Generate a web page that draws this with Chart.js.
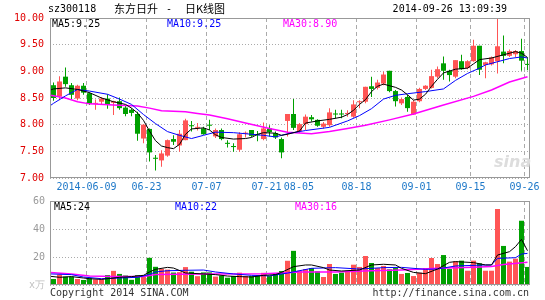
<!DOCTYPE html>
<html>
<head>
<meta charset="utf-8">
<title>sz300118 日K线图</title>
<script src="https://cdn.jsdelivr.net/npm/chart.js@4.4.1/dist/chart.umd.min.js"></script>
<style>
    body { margin: 0; background: #fff; }
    #wrap { position: relative; width: 545px; height: 300px; overflow: hidden; font-family: "DejaVu Sans Mono", monospace; font-size: 10px; color: #000; }
    #wrap canvas { position: absolute; left: 0; }
    .t { position: absolute; white-space: pre; line-height: 12px; }
    .cjk { font-family: "Noto Sans CJK SC", sans-serif; font-size: 11px; line-height: 14px; }
</style>
</head>
<body>
<div id="wrap">
    <canvas id="kline" width="545" height="200" style="top:0"></canvas>
    <canvas id="volume" width="545" height="110" style="top:190px"></canvas>

    <div class="t" style="left:48px;top:3px">sz300118</div>
    <div class="t cjk" style="left:114px;top:1px">东方日升</div>
    <div class="t" style="left:166px;top:3px">-</div>
    <div class="t cjk" style="left:185px;top:1px">日K线图</div>
    <div class="t" style="right:38px;top:3px">2014-09-26 13:09:39</div>

    <div class="t" style="left:52px;top:18px">MA5:9.25</div>
    <div class="t" style="left:167px;top:18px;color:#0000ff">MA10:9.25</div>
    <div class="t" style="left:283px;top:18px;color:#ff00ff">MA30:8.90</div>

    <div class="t" style="left:54px;top:201px">MA5:24</div>
    <div class="t" style="left:175px;top:201px;color:#0000ff">MA10:22</div>
    <div class="t" style="left:295px;top:201px;color:#ff00ff">MA30:16</div>

    <div class="t" style="left:494px;top:152px;font:italic bold 16px 'DejaVu Sans',sans-serif;color:#dddddd">sina</div>

    <div class="t" style="left:50px;top:287px;color:#333">Copyright 2014 SINA.COM</div>
    <div class="t" style="right:16px;top:287px;color:#333">http://finance.sina.com.cn</div>
</div>

<script>
// daily candles, oldest first
const opens = [8.74, 8.53, 8.90, 8.74, 8.49, 8.73, 8.59, 8.39, 8.43, 8.49,
    8.41, 8.44, 8.32, 8.28, 8.20, 7.74, 7.92, 7.38, 7.33, 7.42,
    7.73, 7.61, 7.71, 7.99, 7.94, 7.93, 8.00, 7.78, 7.90, 7.66,
    7.60, 7.53, 7.83, 7.90, 7.82, 7.73, 7.93, 7.84, 7.73, 8.07,
    8.20, 7.88, 8.01, 8.14, 8.09, 7.96, 7.99, 8.21, 8.21, 8.20,
    8.15, 8.42, 8.43, 8.72, 8.69, 8.77, 9.01, 8.63, 8.40, 8.52,
    8.19, 8.44, 8.67, 8.69, 8.90, 9.15, 9.01, 8.90, 9.19, 9.06,
    9.19, 9.48, 9.12, 9.13, 9.19, 9.37, 9.29, 9.32, 9.38, 9.14];
const highs = [8.79, 8.91, 9.07, 8.78, 8.75, 8.78, 8.61, 8.47, 8.52, 8.57,
    8.45, 8.51, 8.36, 8.31, 8.24, 8.01, 7.93, 7.43, 7.52, 7.72,
    7.80, 7.90, 8.11, 8.07, 8.03, 7.96, 8.09, 7.93, 7.93, 7.71,
    7.65, 7.86, 7.87, 7.90, 7.88, 8.04, 7.99, 7.87, 7.76, 8.20,
    8.48, 8.03, 8.19, 8.18, 8.10, 8.05, 8.31, 8.28, 8.28, 8.27,
    8.46, 8.46, 8.71, 8.90, 8.84, 8.99, 9.01, 8.65, 8.51, 8.56,
    8.46, 8.69, 8.74, 9.03, 9.09, 9.28, 9.03, 9.21, 9.31, 9.21,
    9.59, 9.48, 9.18, 9.28, 9.99, 9.67, 9.41, 9.40, 9.61, 9.26];
const lows = [8.45, 8.46, 8.71, 8.48, 8.46, 8.56, 8.37, 8.28, 8.37, 8.30,
    8.18, 8.28, 8.16, 8.16, 7.70, 7.65, 7.31, 7.14, 7.21, 7.40,
    7.62, 7.49, 7.71, 7.87, 7.89, 7.81, 7.90, 7.75, 7.71, 7.57,
    7.49, 7.49, 7.76, 7.77, 7.69, 7.71, 7.78, 7.73, 7.37, 7.78,
    7.90, 7.85, 7.90, 8.06, 7.96, 7.93, 7.96, 8.12, 8.12, 8.15,
    8.13, 8.31, 8.40, 8.52, 8.66, 8.74, 8.61, 8.34, 8.37, 8.24,
    8.18, 8.42, 8.65, 8.68, 8.87, 8.84, 8.81, 8.87, 9.03, 9.04,
    9.18, 8.93, 8.87, 9.11, 8.96, 9.15, 9.27, 9.27, 9.01, 9.02];
const closes = [8.50, 8.81, 8.76, 8.56, 8.73, 8.60, 8.39, 8.40, 8.49, 8.37,
    8.44, 8.31, 8.20, 8.22, 7.83, 8.00, 7.48, 7.36, 7.46, 7.71,
    7.68, 7.83, 8.08, 7.97, 7.95, 7.82, 7.98, 7.90, 7.73, 7.64,
    7.58, 7.82, 7.85, 7.79, 7.80, 7.93, 7.86, 7.76, 7.48, 8.20,
    7.94, 8.01, 8.15, 8.10, 7.98, 8.02, 8.23, 8.19, 8.19, 8.22,
    8.38, 8.44, 8.71, 8.67, 8.79, 8.94, 8.63, 8.44, 8.48, 8.31,
    8.43, 8.67, 8.73, 8.91, 9.04, 9.01, 8.93, 9.21, 9.04, 9.19,
    9.48, 9.03, 9.17, 9.26, 9.47, 9.29, 9.38, 9.38, 9.20, 9.12];
// volume, 万手
const volumes = [4.3, 7.5, 6.0, 6.0, 4.3, 3.6, 4.9, 4.0, 4.1, 7.1,
    10.1, 7.9, 6.8, 3.7, 7.1, 6.0, 19.4, 13.0, 11.6, 11.0,
    8.9, 9.2, 12.8, 9.5, 6.3, 9.0, 9.0, 6.0, 6.7, 5.2,
    6.4, 8.8, 6.4, 6.4, 6.4, 8.7, 6.4, 8.5, 10.0, 17.3,
    24.4, 10.2, 11.4, 12.1, 9.8, 5.7, 15.0, 7.9, 8.8, 10.2,
    14.5, 12.9, 20.7, 15.7, 12.1, 13.6, 11.2, 12.1, 7.9, 8.6,
    6.4, 8.8, 12.1, 19.3, 15.0, 21.4, 11.4, 16.9, 17.4, 10.2,
    17.4, 15.5, 10.2, 10.2, 54.3, 27.9, 16.7, 18.8, 45.9, 12.9];

// moving averages (x = candle index)
const ma5X = [-0.5, 0, 2, 4, 6, 8, 10, 12, 13, 14, 15, 16, 17, 18, 19, 20, 21, 22, 23, 25, 26, 27, 28, 30, 32, 33, 34, 35, 37, 38, 39, 41, 42, 44, 46, 48, 49, 50, 51, 52, 53, 54, 55, 57, 58, 59, 60, 61, 62, 63, 64, 65, 67, 69, 70, 71, 73, 75, 77, 78, 79];
const ma5 = [8.65, 8.67, 8.69, 8.66, 8.60, 8.50, 8.43, 8.38, 8.31, 8.22, 8.08, 7.88, 7.70, 7.60, 7.57, 7.55, 7.63, 7.82, 7.92, 7.94, 7.90, 7.81, 7.76, 7.73, 7.74, 7.76, 7.82, 7.85, 7.84, 7.80, 7.82, 7.88, 8.03, 8.07, 8.10, 8.14, 8.19, 8.27, 8.38, 8.47, 8.62, 8.72, 8.76, 8.70, 8.65, 8.56, 8.46, 8.48, 8.57, 8.72, 8.85, 8.97, 9.04, 9.06, 9.14, 9.22, 9.25, 9.31, 9.37, 9.34, 9.26];
const ma10X = [-0.5, 0, 2, 4, 6, 9, 11, 13, 15, 17, 19, 21, 23, 25, 27, 30, 33, 35, 37, 39, 42, 46, 49, 51, 53, 55, 57, 59, 62, 65, 67, 69, 71, 72, 74, 76, 78, 79];
const ma10 = [8.36, 8.40, 8.54, 8.66, 8.63, 8.57, 8.48, 8.38, 8.19, 8.02, 7.87, 7.80, 7.74, 7.80, 7.86, 7.85, 7.82, 7.80, 7.77, 7.83, 7.89, 7.95, 8.07, 8.17, 8.30, 8.48, 8.55, 8.58, 8.62, 8.67, 8.83, 8.96, 9.06, 9.12, 9.18, 9.24, 9.27, 9.25];
const ma30X = [-0.5, 2, 4, 6, 10, 14, 16, 18, 22, 24, 26, 29, 32, 36, 39, 43, 46, 49, 52, 56, 60, 65, 70, 73, 76, 79];
const ma30 = [8.55, 8.50, 8.43, 8.39, 8.37, 8.35, 8.31, 8.26, 8.24, 8.21, 8.18, 8.11, 8.03, 7.93, 7.86, 7.83, 7.87, 7.93, 7.99, 8.09, 8.20, 8.37, 8.53, 8.65, 8.80, 8.90];

const volMa5X = [-0.5, 1, 3, 5, 6, 8, 11, 13, 15, 16, 17, 19, 20, 22, 25, 27, 29, 31, 33, 35, 37, 38, 40, 42, 43, 45, 46, 48, 51, 53, 55, 57, 58, 60, 62, 64, 66, 67, 70, 72, 73, 74, 76, 77, 78, 79];
const volMa5 = [6.2, 5.5, 6.0, 5.0, 4.5, 4.0, 5.5, 6.0, 6.9, 9.3, 11.2, 12.6, 12.1, 8.6, 7.9, 7.4, 6.4, 6.0, 5.7, 6.9, 7.4, 9.0, 13.1, 14.3, 14.3, 12.4, 10.7, 10.0, 10.7, 14.3, 14.8, 14.3, 11.9, 9.0, 8.1, 11.4, 16.2, 16.7, 16.0, 14.3, 14.3, 21.4, 23.8, 27.4, 32.6, 24.5];
const volMa10X = [-0.5, 3, 5, 8, 11, 14, 16, 17, 19, 22, 25, 27, 30, 33, 36, 39, 43, 47, 51, 55, 58, 62, 64, 67, 72, 73, 74, 77, 78, 79];
const volMa10 = [7.9, 7.4, 5.7, 4.5, 5.0, 5.5, 7.5, 9.3, 10.2, 10.5, 10.7, 9.3, 7.9, 6.9, 6.5, 8.5, 11.9, 12.4, 11.4, 12.4, 12.6, 11.2, 11.4, 13.6, 14.3, 14.3, 19.0, 19.5, 22.1, 22.6];
const volMa30X = [-0.5, 3, 6, 10, 15, 17, 25, 35, 39, 41, 47, 53, 58, 64, 70, 73, 75, 79];
const volMa30 = [9.0, 7.9, 6.5, 6.0, 6.0, 7.5, 7.9, 8.0, 8.8, 9.2, 9.3, 10.1, 10.8, 11.9, 12.7, 13.3, 14.6, 16.3];

// date labels under the price panel
const tickPos = [5.5, 15.5, 25.5, 35.5, 40.9, 50.5, 60.5, 69.5, 78.5];
const tickText = ['2014-06-09', '06-23', '07-07', '07-21', '08-05', '08-18', '09-01', '09-15', '09-26'];
const noGridTicks = ['08-05'];

const MONO = '"DejaVu Sans Mono", monospace';
const UP = '#ff5555';
const DOWN = '#00a000';
const GRID = '#aaaaaa';
const colorAt = i => closes[i] >= opens[i] ? UP : DOWN;

Chart.defaults.font.family = MONO;
Chart.defaults.font.size = 10;

// shift by half a pixel so 5px bodies and 1px wicks land on whole pixels
const X_MIN = -7 / 12;
const X_MAX = opens.length - 7 / 12;

const frame = {
    id: 'frame',
    afterDatasetsDraw(chart) {
        const { ctx, chartArea: a } = chart;
        ctx.save();
        ctx.strokeStyle = '#999999';
        ctx.lineWidth = 1;
        ctx.strokeRect(a.left + 0.5, a.top + 0.5, a.right - a.left - 1, a.bottom - a.top - 1);
        ctx.restore();
    }
};

function xAxis(showLabels, height) {
    return {
        type: 'linear',
        offset: false,
        min: X_MIN,
        max: X_MAX,
        afterBuildTicks: s => { s.ticks = tickPos.map(v => ({ value: v })); },
        afterFit: s => { s.height = height; },
        ticks: {
            display: showLabels,
            autoSkip: false,
            maxRotation: 0,
            padding: 3,
            color: '#1e78c8',
            callback: (v, i) => tickText[i]
        },
        grid: {
            offset: false,
            drawTicks: false,
            color: c => noGridTicks.includes(tickText[c.index]) ? 'rgba(0,0,0,0)' : GRID
        },
        border: { display: false, dash: [4, 3] }
    };
}

function maLine(xs, ys, color, width) {
    return {
        type: 'line',
        data: xs.map((x, k) => ({ x: x, y: ys[k] })),
        borderColor: color,
        borderWidth: width || 1,
        pointRadius: 0,
        fill: false,
        tension: 0,
        order: 0
    };
}

const common = {
    responsive: false,
    animation: false,
    datasets: { bar: { grouped: false, inflateAmount: 0 } },
    plugins: { legend: { display: false }, tooltip: { enabled: false } }
};

new Chart(document.getElementById('kline'), {
    type: 'bar',
    data: {
        datasets: [
            maLine(ma5X, ma5, '#000000'),
            maLine(ma10X, ma10, '#0000ff'),
            maLine(ma30X, ma30, '#ff00ff', 1.5),
            {
                data: opens.map((o, i) => ({ x: i, y: [o, closes[i]] })),
                backgroundColor: c => colorAt(c.dataIndex),
                barThickness: 5,
                minBarLength: 1,
                order: 2
            },
            {
                data: lows.map((l, i) => ({ x: i, y: [l, highs[i]] })),
                backgroundColor: c => colorAt(c.dataIndex),
                barThickness: 1,
                order: 3
            }
        ]
    },
    options: {
        ...common,
        layout: { padding: { top: 18, right: 15, left: 0, bottom: 0 } },
        scales: {
            x: xAxis(true, 22),
            y: {
                min: 7,
                max: 10,
                afterFit: s => { s.width = 50; },
                ticks: { stepSize: 0.5, padding: 6, color: '#e00000', callback: v => v.toFixed(2) },
                grid: { color: GRID, drawTicks: false },
                border: { display: false, dash: [1, 2] }
            }
        }
    },
    plugins: [frame]
});

new Chart(document.getElementById('volume'), {
    type: 'bar',
    data: {
        datasets: [
            maLine(volMa5X, volMa5, '#000000'),
            maLine(volMa10X, volMa10, '#0000ff'),
            maLine(volMa30X, volMa30, '#ff00ff', 1.5),
            {
                data: volumes.map((v, i) => ({ x: i, y: v })),
                backgroundColor: c => colorAt(c.dataIndex),
                barThickness: 5,
                order: 2
            }
        ]
    },
    options: {
        ...common,
        layout: { padding: { top: 11, right: 15, left: 0, bottom: 0 } },
        scales: {
            x: xAxis(false, 15),
            y: {
                min: 0,
                max: 60,
                afterFit: s => { s.width = 50; },
                ticks: {
                    stepSize: 20,
                    padding: 5,
                    color: c => c.tick.value === 0 ? '#c0c0c0' : '#999999',
                    callback: v => v === 0 ? 'x万' : v
                },
                grid: { color: GRID, drawTicks: false },
                border: { display: false, dash: [1, 2] }
            }
        }
    },
    plugins: [frame]
});
</script>
</body>
</html>
